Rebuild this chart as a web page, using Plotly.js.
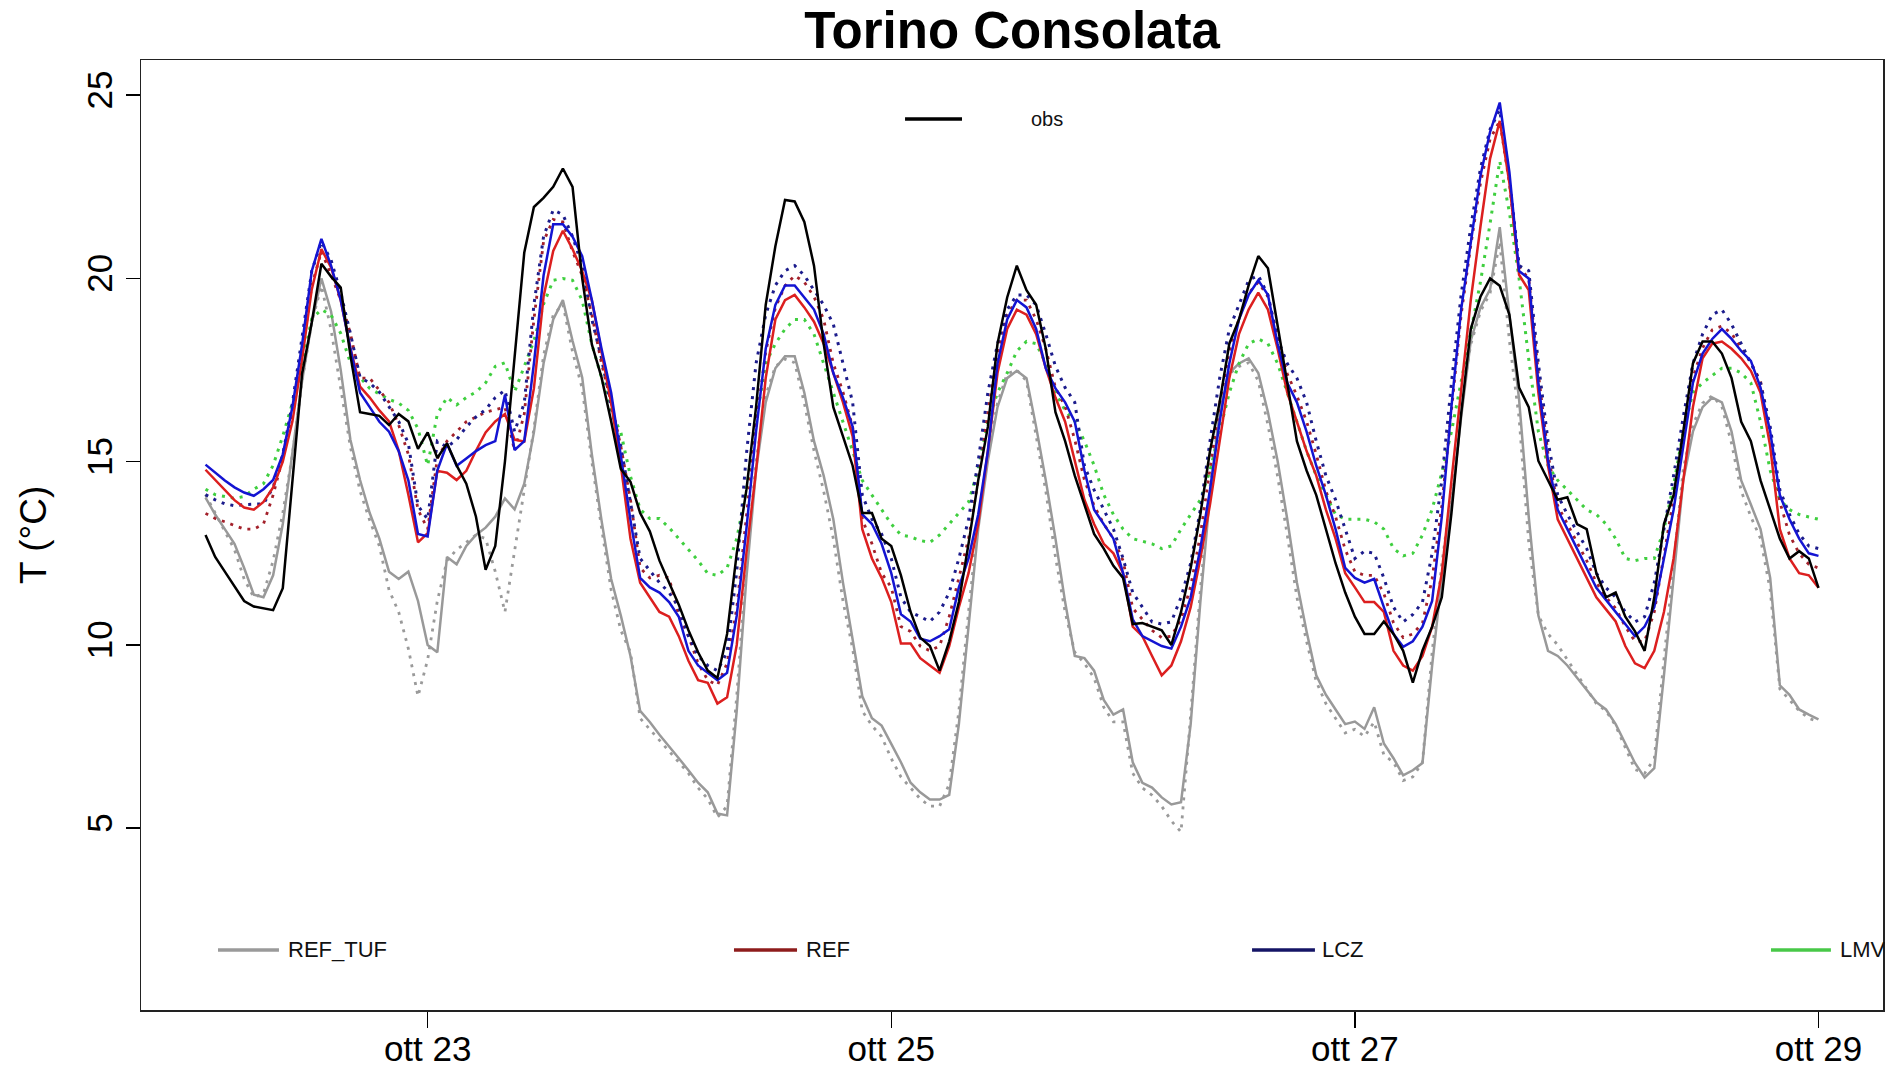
<!DOCTYPE html>
<html>
<head>
<meta charset="utf-8">
<script src="https://cdn.plot.ly/plotly-3.0.1.min.js"></script>
<style>html,body{margin:0;padding:0;background:#fff;}#chart{width:1885px;height:1071px;}</style>
</head>
<body>
<div id="chart"></div>
<script>
// ---- data (hourly, starting 22 Oct 01:00) ----
const startHour = "2021-10-22T01:00:00Z";
const obs = [13.0,12.4,12.0,11.6,11.2,11.05,11.0,10.95,11.55,14.5,
17.4,18.8,20.4,20.05,19.75,17.9,16.35,16.3,16.25,16.0,
16.3,16.1,15.35,15.8,15.1,15.5,14.9,14.4,13.5,12.05,
12.7,15.0,17.8,20.7,21.95,22.2,22.5,23.0,22.5,20.0,
18.2,17.3,16.1,14.8,14.45,13.6,13.1,12.3,11.7,11.1,
10.4,9.8,9.3,9.1,10.3,12.5,14.23,16.49,19.28,20.88,
22.14,22.1,21.54,20.35,18.22,16.49,15.69,14.89,13.6,13.6,
12.9,12.7,11.9,10.9,10.2,9.97,9.3,10.1,11.17,12.76,
14.49,15.95,18.22,19.48,20.35,19.68,19.28,18.08,16.35,15.56,
14.62,13.83,13.03,12.63,12.16,11.83,10.57,10.6,10.5,10.4,
10.0,10.9,12.1,13.56,15.29,16.62,18.22,18.88,19.81,20.61,
20.28,18.75,17.15,15.56,14.76,14.09,13.16,12.23,11.43,10.77,
10.3,10.3,10.64,10.3,9.84,8.97,9.85,10.5,11.3,13.6,
16.3,18.62,19.5,20.0,19.8,19.01,17.02,16.49,15.02,14.49,
13.96,14.03,13.3,13.16,11.96,11.3,11.43,10.77,10.37,9.84,
11.3,13.3,14.09,15.82,17.68,18.28,18.28,17.95,17.28,16.09,
15.56,14.49,13.69,12.9,12.36,12.56,12.36,11.56];

const refTuf = [14.02,13.56,13.16,12.76,12.1,11.37,11.3,11.9,13.3,15.3,
17.2,18.8,20.0,19.1,17.5,15.6,14.5,13.6,12.9,12.0,
11.8,12.0,11.2,10.0,9.8,12.4,12.2,12.7,13.0,13.2,
13.5,14.0,13.7,14.4,15.8,17.68,18.88,19.41,18.3,17.3,
15.2,13.4,11.8,10.8,9.7,8.2,7.9,7.55,7.24,6.91,
6.58,6.24,5.98,5.4,5.35,8.2,11.83,14.76,16.62,17.55,
17.88,17.88,16.88,15.56,14.62,13.43,11.7,10.2,8.6,8.0,
7.8,7.3,6.8,6.24,5.98,5.78,5.78,5.91,7.84,10.5,
13.16,15.02,16.49,17.28,17.48,17.28,15.95,14.49,12.9,11.17,
9.7,9.64,9.3,8.5,8.1,8.24,6.8,6.24,6.11,5.84,
5.65,5.71,7.84,11.17,14.09,16.35,17.42,17.68,17.82,17.42,
16.35,15.02,13.43,11.7,10.37,9.17,8.64,8.24,7.84,7.91,
7.71,8.3,7.31,6.91,6.44,6.58,6.78,9.44,11.83,13.83,
16.2,18.3,19.2,19.7,21.4,19.0,16.7,13.5,10.8,9.84,
9.7,9.44,9.1,8.77,8.44,8.24,7.84,7.31,6.78,6.38,
6.64,9.17,11.83,14.49,15.82,16.49,16.75,16.62,15.82,14.49,
13.83,13.16,11.83,8.9,8.64,8.24,8.1,7.97];

const refTufDot = [14.1,13.6,13.1,12.6,11.8,11.3,11.4,12.3,13.6,15.2,
17.2,18.8,19.8,18.6,17.0,15.4,14.2,13.4,12.7,11.5,
10.9,9.9,8.6,9.6,11.2,12.3,12.6,12.8,13.0,12.9,
12.0,10.9,12.6,14.3,15.9,17.9,19.0,19.3,18.0,17.0,
15.0,13.2,11.5,10.4,9.8,8.0,7.7,7.4,7.1,6.8,
6.5,6.1,5.8,5.3,5.6,8.6,12.2,15.0,16.8,17.6,
17.8,17.7,16.6,15.3,14.2,12.9,11.2,9.9,8.2,7.8,
7.5,6.9,6.4,6.1,5.8,5.6,5.6,6.2,8.2,10.9,
13.4,15.2,16.6,17.4,17.5,17.2,15.7,14.2,12.4,10.9,
9.8,9.5,9.1,8.3,7.9,7.9,6.5,6.1,5.9,5.6,
5.2,4.9,8.1,11.5,14.3,16.4,17.4,17.6,17.7,17.2,
16.0,14.6,13.0,11.3,10.1,9.0,8.4,8.0,7.6,7.7,
7.5,7.9,7.0,6.8,6.3,6.4,6.8,9.8,12.2,14.2,
16.6,18.2,19.1,19.6,21.0,18.3,16.2,12.8,10.8,10.3,
10.0,9.6,9.2,8.8,8.4,8.2,7.8,7.2,6.6,6.5,
6.9,9.6,12.2,14.8,16.0,16.6,16.8,16.5,15.5,14.2,
13.5,12.9,11.5,8.8,8.5,8.2,8.0,7.9];

const ref = [14.78,14.5,14.22,13.95,13.75,13.69,13.9,14.3,15.0,16.1,
17.8,19.7,20.8,20.3,19.4,18.1,17.05,16.75,16.4,16.1,
15.3,14.1,12.8,13.05,14.75,14.7,14.5,14.75,15.3,15.8,
16.1,16.3,15.6,15.55,17.0,19.5,20.75,21.3,20.8,20.2,
19.4,17.95,16.6,14.9,12.9,11.7,11.3,10.9,10.77,10.24,
9.57,9.04,8.97,8.4,8.57,10.0,12.5,14.76,17.28,18.88,
19.41,19.55,19.21,18.82,18.22,17.42,16.62,15.69,13.16,12.36,
11.83,11.17,10.04,10.04,9.64,9.44,9.24,9.97,11.03,11.96,
13.3,15.29,17.42,18.62,19.15,19.01,18.48,17.55,16.75,16.09,
15.02,13.96,13.3,12.76,12.5,11.96,10.5,10.24,9.7,9.17,
9.44,10.1,11.03,12.36,13.83,15.56,17.28,18.48,19.15,19.61,
19.15,18.08,16.88,16.09,15.29,14.62,13.69,12.9,11.96,11.57,
11.17,11.17,10.9,9.84,9.44,9.3,9.7,10.5,11.96,14.49,
16.88,19.41,21.41,23.27,24.3,22.6,20.1,19.68,16.88,14.89,
13.43,12.9,12.36,11.83,11.3,10.97,10.64,9.97,9.5,9.37,
9.84,10.9,12.36,14.49,16.49,17.82,18.22,18.28,18.08,17.82,
17.48,16.88,15.42,13.16,12.36,11.96,11.9,11.56];

const refDot = [13.59,13.45,13.36,13.25,13.16,13.16,13.3,14.09,15.1,16.3,
17.95,19.8,20.74,20.1,19.41,18.5,17.28,17.28,16.95,16.62,
16.0,15.2,13.69,13.16,15.09,15.56,15.82,16.09,16.22,16.35,
16.42,16.49,15.29,16.3,18.88,21.01,21.61,21.54,20.74,20.08,
19.01,17.68,16.62,15.42,13.96,12.1,11.83,11.9,11.83,10.8,
10.24,9.5,9.04,8.9,9.5,11.0,13.5,16.0,18.0,19.2,
19.8,20.08,19.9,19.5,18.88,17.68,16.9,15.95,13.43,12.76,
11.96,11.57,10.5,10.37,9.97,9.84,9.97,10.77,11.83,12.9,
14.49,16.35,17.95,19.01,19.41,19.41,18.88,18.08,17.02,16.5,
15.6,14.5,13.8,13.3,12.9,12.3,11.0,10.7,10.4,10.2,
10.24,10.7,11.6,13.0,14.8,16.6,18.0,18.9,19.6,19.9,
19.5,18.4,17.4,16.8,16.1,15.2,14.2,13.5,12.6,12.0,
11.9,11.9,11.4,10.6,10.2,10.3,10.6,11.8,13.8,16.4,
19.0,20.9,22.6,23.8,24.3,22.6,20.3,20.0,17.4,15.2,
13.8,13.3,12.8,12.3,11.7,11.3,11.0,10.5,10.1,10.1,
10.9,12.4,14.0,15.8,17.3,18.1,18.6,18.7,18.5,18.1,
17.7,17.2,15.8,13.9,13.0,12.5,12.2,12.1];

const lcz = [14.92,14.7,14.49,14.3,14.16,14.07,14.25,14.5,15.2,16.5,
18.2,20.2,21.08,20.35,19.41,18.08,16.88,16.49,16.09,15.82,
15.29,14.49,13.03,12.96,14.76,15.49,14.89,15.09,15.29,15.45,
15.56,16.82,15.32,15.56,17.68,20.08,21.48,21.48,21.14,20.61,
19.41,18.08,16.88,15.16,13.4,11.83,11.57,11.43,11.17,10.77,
9.84,9.44,9.24,9.04,9.24,10.8,13.16,15.82,18.08,19.28,
19.81,19.81,19.48,19.15,18.48,17.42,16.75,15.95,13.56,13.3,
12.76,11.96,10.84,10.64,10.17,10.1,10.24,10.43,11.57,12.36,
13.56,15.29,17.68,18.88,19.41,19.21,18.62,17.55,17.0,16.62,
16.09,14.76,13.69,13.3,12.9,11.96,10.7,10.24,10.1,9.97,
9.9,10.5,11.3,12.63,14.23,16.09,17.68,18.88,19.55,19.95,
19.55,18.22,17.15,16.62,15.82,14.89,14.09,13.16,12.1,11.83,
11.7,11.8,11.03,10.3,9.95,10.1,10.5,11.2,13.5,16.5,
19.15,21.0,22.8,24.0,24.8,22.9,20.2,20.0,17.15,15.02,
13.69,13.16,12.63,12.1,11.56,11.23,10.9,10.57,10.24,10.5,
11.03,12.36,13.69,15.42,17.15,17.95,18.35,18.62,18.35,18.02,
17.75,17.02,15.82,14.09,13.43,12.9,12.5,12.43];

const lczDot = [14.1,13.96,13.85,13.8,13.83,13.83,13.85,14.3,15.2,16.6,
18.4,20.2,21.0,20.5,19.6,18.5,17.3,17.15,16.9,16.5,
16.1,15.5,13.8,13.43,15.56,15.4,15.6,15.95,16.22,16.42,
16.75,16.95,15.82,16.6,19.28,21.14,21.87,21.74,21.14,20.35,
18.88,17.82,16.49,15.42,13.9,12.36,12.03,11.7,11.43,11.03,
10.24,9.7,9.44,9.3,9.8,12.0,15.2,17.68,19.01,19.81,
20.21,20.35,20.08,19.68,19.28,18.75,17.68,16.62,14.09,13.43,
13.03,12.36,11.3,10.9,10.77,10.64,10.9,11.43,12.36,13.43,
15.02,16.88,18.22,19.15,19.55,19.55,19.28,18.48,17.6,17.02,
16.62,14.89,14.23,13.69,13.16,12.36,11.43,11.03,10.63,10.57,
10.63,11.3,12.23,13.69,15.56,17.28,18.62,19.28,19.95,20.08,
19.55,18.35,17.68,17.28,16.62,15.56,14.62,13.96,13.16,12.36,
12.56,12.5,11.83,11.03,10.63,10.83,11.17,12.5,14.49,17.15,
19.55,21.41,23.0,24.07,24.6,22.74,20.35,20.21,17.68,15.56,
14.09,13.56,13.09,12.63,11.96,11.56,11.3,10.9,10.63,10.77,
11.7,13.16,14.62,16.22,17.68,18.48,19.01,19.15,18.75,18.22,
17.68,17.15,15.95,14.23,13.56,13.03,12.7,12.63];

const lmvDot = [14.25,14.1,14.05,14.0,14.05,14.25,14.4,14.9,15.7,16.6,
17.6,18.9,19.15,19.0,18.5,17.7,17.3,17.0,16.85,16.7,
16.6,16.4,15.9,14.9,16.3,16.75,16.55,16.75,16.9,17.15,
17.6,17.7,16.9,17.6,18.3,19.3,19.95,20.0,19.95,19.4,
18.2,17.3,16.35,15.8,14.6,13.7,13.45,13.45,13.2,12.9,
12.6,12.3,11.95,11.9,12.1,12.9,14.23,16.09,17.68,18.22,
18.62,18.88,18.88,18.48,17.68,16.88,16.09,15.29,14.49,14.09,
13.69,13.3,13.0,12.95,12.85,12.8,13.0,13.3,13.6,13.9,
14.8,16.09,16.88,17.42,18.02,18.28,18.22,17.68,16.88,16.4,
16.1,15.56,14.9,14.1,13.56,13.16,12.9,12.83,12.76,12.63,
12.7,13.16,13.56,13.96,14.76,15.8,16.88,17.68,18.22,18.35,
18.22,17.68,16.88,16.09,15.29,14.62,14.09,13.56,13.43,13.43,
13.43,13.36,13.16,12.63,12.43,12.5,13.0,13.7,14.7,15.82,
17.15,18.5,19.9,21.5,23.2,21.8,20.0,17.8,15.82,14.89,
14.49,14.23,13.96,13.69,13.56,13.3,12.9,12.36,12.3,12.36,
12.36,13.16,14.36,15.82,16.88,17.15,17.35,17.55,17.55,17.42,
17.15,16.09,14.76,13.96,13.69,13.56,13.49,13.43];

const xTickDates = ["2021-10-23", "2021-10-25", "2021-10-27", "2021-10-29"];
const xTickLabels = ["ott 23", "ott 25", "ott 27", "ott 29"];
const yTicks = [5, 10, 15, 20, 25];
const legendNames = ["obs", "REF_TUF", "REF", "LCZ", "LMV"];

// ---- time axis ----
const t0 = Date.parse(startHour);
const times = obs.map((_, k) => new Date(t0 + k * 3600000).toISOString().slice(0, 19).replace("T", " "));

function tr(y, color, width, dash) {
  return {x: times, y: y, type: "scatter", mode: "lines", hoverinfo: "skip", showlegend: false,
          line: {color: color, width: width, dash: dash || "solid"}};
}
const DOT = "3px,6px";
const data = [
  tr(refTufDot, "#9a9a9a", 2.8, DOT),
  tr(refTuf, "#999999", 2.5),
  tr(lmvDot, "#3fcf3f", 3, DOT),
  tr(refDot, "#a3202a", 2.8, DOT),
  tr(lczDot, "#1c1c8c", 3, DOT),
  tr(ref, "#dc1f1f", 2.5),
  tr(lcz, "#1414d2", 2.5),
  tr(obs, "#000000", 2.5)
];

// ---- legend drawn in plot (R style) ----
const legX = [[0.4386, 0.4713, 0.5098], [0.0442, 0.0792, 0.0832], [0.3404, 0.3766, 0.3806], [0.6378, 0.6739, 0.6768], [0.9357, 0.9701, 0.9742]];
const legY = [0.9379, 0.0632, 0.0632, 0.0632, 0.0632];
const legCol = ["#000000", "#9a9a9a", "#8e1c1c", "#141466", "#48c848"];
const legSize = [20, 22, 22, 22, 22];
const shapes = [], annotations = [];
legendNames.forEach((nm, k) => {
  shapes.push({type: "line", xref: "paper", yref: "paper", x0: legX[k][0], x1: legX[k][1], y0: legY[k], y1: legY[k],
               line: {color: legCol[k], width: 3.4}});
  annotations.push({xref: "paper", yref: "paper", x: legX[k][2], y: legY[k], text: nm, showarrow: false,
                    xanchor: "left", yanchor: "middle", font: {size: legSize[k], color: "#111", family: "Liberation Sans, Arial, sans-serif"}});
});
annotations.push({xref: "paper", yref: "paper", x: -0.062, y: 0.5, text: "T (°C)", textangle: -90, showarrow: false,
                  xanchor: "center", yanchor: "middle", font: {size: 37, color: "#000", family: "Liberation Sans, Arial, sans-serif"}});

const layout = {
  width: 1885, height: 1071,
  margin: {l: 141, r: 2, t: 60, b: 61},
  paper_bgcolor: "#ffffff", plot_bgcolor: "#ffffff",
  font: {family: "Liberation Sans, Arial, sans-serif", color: "#000"},
  title: {text: "Torino Consolata", font: {size: 51, weight: "bold", color: "#000"},
          x: 0.5, xref: "paper", xanchor: "center", y: 1 - 30 / 1071, yref: "container", yanchor: "middle"},
  xaxis: {type: "date", range: ["2021-10-21 18:19:12", "2021-10-29 06:40:48"],
          tickmode: "array", tickvals: xTickDates, ticktext: xTickLabels,
          ticks: "outside", ticklen: 16, tickwidth: 1.5, tickcolor: "#000",
          ticklabelstandoff: -9,
          tickfont: {size: 35, color: "#000"},
          showline: true, linecolor: "#222", linewidth: 1.5, mirror: true,
          showgrid: false, zeroline: false, fixedrange: true},
  yaxis: {range: [0.04, 25.96], tickmode: "array", tickvals: yTicks, ticktext: yTicks.map(String),
          tickangle: -90, ticks: "outside", ticklen: 14, tickwidth: 1.5, tickcolor: "#000",
          tickfont: {size: 35, color: "#000"},
          showline: true, linecolor: "#222", linewidth: 1.5, mirror: true,
          showgrid: false, zeroline: false, fixedrange: true},
  shapes: shapes,
  annotations: annotations,
  showlegend: false
};

Plotly.newPlot("chart", data, layout, {displayModeBar: false, staticPlot: true});
</script>
</body>
</html>
